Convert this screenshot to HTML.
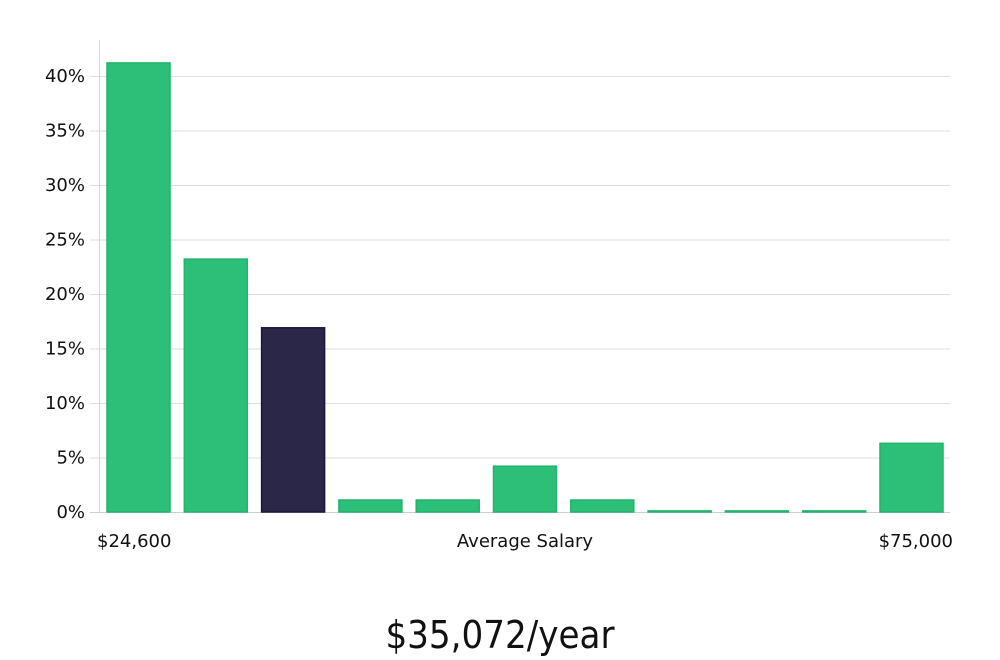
<!DOCTYPE html>
<html><head><meta charset="utf-8"><style>
html,body{margin:0;padding:0;background:#fff;}
svg{display:block;font-family:"DejaVu Sans","Liberation Sans",sans-serif;}
</style></head><body>
<svg id="chart" width="1000" height="660" viewBox="0 0 1000 660" xmlns="http://www.w3.org/2000/svg">
<g id="grid"></g>
<g id="ylabels"></g>
<line x1="99.5" y1="40" x2="99.5" y2="512" stroke="#d8d8d8"/>
<g id="bars"></g>
<text x="97" y="547" font-size="18" fill="#111">$24,600</text>
<text x="525" y="547" font-size="18" fill="#111" text-anchor="middle">Average Salary</text>
<text x="953" y="547" font-size="18" fill="#111" text-anchor="end">$75,000</text>
<text x="500" y="648" font-size="38" fill="#111" text-anchor="middle" font-family="'Liberation Sans Narrow','DejaVu Sans Condensed','Liberation Sans',sans-serif" font-weight="300">$35,072/year</text>
</svg>
<script>
const values = [41.2, 23.2, 16.9, 1.1, 1.1, 4.2, 1.1, 0.1, 0.1, 0.1, 6.3];
const highlightIndex = 2;
const yTicks = [0, 5, 10, 15, 20, 25, 30, 35, 40];
const ns = "http://www.w3.org/2000/svg";
const y0 = 512, pxPer = 10.9;
const y = v => y0 - v * pxPer;
const xStart = 107, pitch = 77.3, bw = 63;
const grid = document.getElementById('grid'), yl = document.getElementById('ylabels'), bars = document.getElementById('bars');
yTicks.forEach(t => {
  const l = document.createElementNS(ns, 'line');
  
  
  l.setAttribute('x1', 90); l.setAttribute('x2', 950);
  l.setAttribute('y1', y(t) + 0.5); l.setAttribute('y2', y(t) + 0.5);
  l.setAttribute('stroke', t === 0 ? '#cfcfcf' : '#dedede');
  grid.appendChild(l);
  const tx = document.createElementNS(ns, 'text');
  
  
  tx.setAttribute('x', 85); tx.setAttribute('y', y(t) + 6);
  tx.setAttribute('text-anchor', 'end'); tx.setAttribute('font-size', '18'); tx.setAttribute('fill', '#111');
  tx.textContent = t + '%';
  yl.appendChild(tx);
});
values.forEach((v, i) => {
  const r = document.createElementNS(ns, 'rect');
  
  
  const h = Math.max(v * pxPer, 1);
  r.setAttribute('x', xStart + i * pitch); r.setAttribute('y', y0 - h);
  r.setAttribute('width', bw); r.setAttribute('height', h);
  const hl = i === highlightIndex;
  r.setAttribute('fill', hl ? '#2b2748' : '#2bbf77');
  r.setAttribute('stroke', hl ? '#1a1640' : '#22b36c');
  r.setAttribute('stroke-width', '1.5');
  bars.appendChild(r);
});
</script>
</body></html>
